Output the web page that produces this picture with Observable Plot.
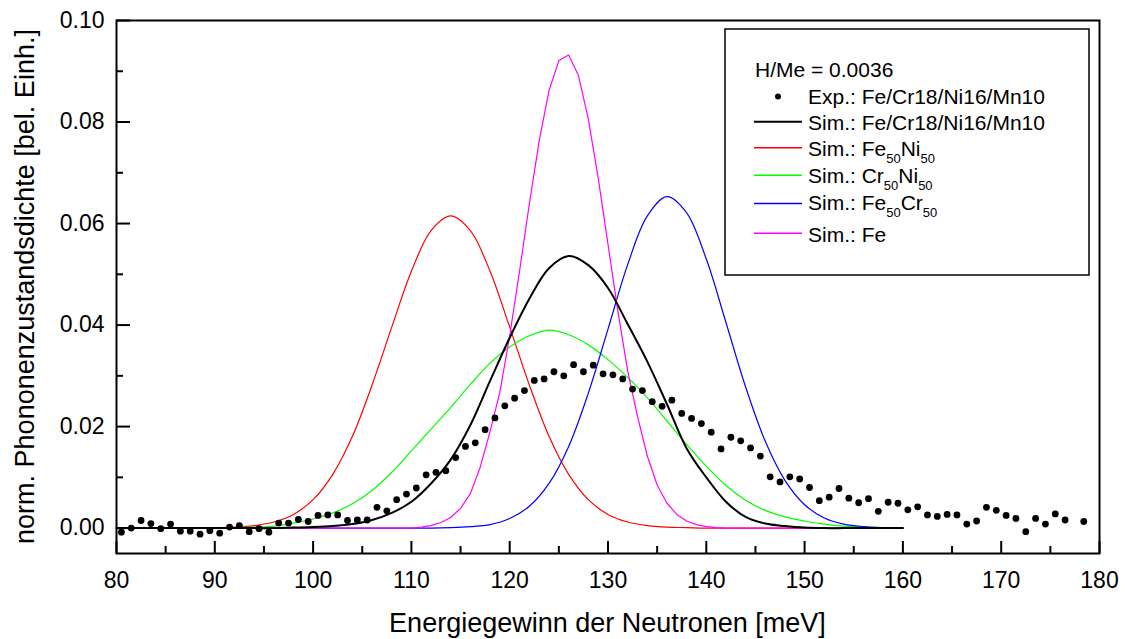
<!DOCTYPE html>
<html><head><meta charset="utf-8">
<script src="https://cdn.jsdelivr.net/npm/d3@7"></script>
<script src="https://cdn.jsdelivr.net/npm/@observablehq/plot@0.6"></script>
<style>
body{margin:0;background:#fff;}
#chart{width:1125px;height:639px;}
</style></head><body><div id="chart"></div>
<script>
// Experimental data (dots)
const expE = [80.5,81.5,82.5,83.5,84.5,85.5,86.5,87.5,88.5,89.5,90.5,91.5,92.5,93.5,94.5,95.5,96.5,97.5,98.5,99.5,
100.5,101.5,102.5,103.5,104.5,105.5,106.5,107.5,108.5,109.5,110.5,111.5,112.5,113.5,114.5,115.5,116.5,117.5,118.5,119.5,
120.5,121.5,122.5,123.5,124.5,125.5,126.5,127.5,128.5,129.5,130.5,131.5,132.5,133.5,134.5,135.5,136.5,137.5,138.5,139.5,
140.5,141.5,142.5,143.5,144.5,145.5,146.5,147.5,148.5,149.5,150.5,151.5,152.5,153.5,154.5,155.5,156.5,157.5,158.5,159.5,
160.5,161.5,162.5,163.5,164.5,165.5,166.5,167.5,168.5,169.5,170.5,171.5,172.5,173.5,174.5,175.5,176.5,178.4];
const expV = [-0.0008,0.0000,0.0015,0.0009,-0.0001,0.0008,-0.0006,-0.0006,-0.0012,-0.0005,-0.0010,0.0002,0.0005,-0.0007,-0.0001,-0.0008,0.0010,0.0010,0.0017,0.0013,
0.0025,0.0026,0.0026,0.0015,0.0016,0.0016,0.0041,0.0034,0.0056,0.0067,0.0079,0.0105,0.0110,0.0113,0.0139,0.0161,0.0168,0.0194,0.0217,0.0241,
0.0256,0.0271,0.0291,0.0294,0.0308,0.0300,0.0322,0.0308,0.0321,0.0304,0.0302,0.0294,0.0274,0.0271,0.0249,0.0240,0.0252,0.0226,0.0216,0.0206,
0.0189,0.0156,0.0179,0.0172,0.0158,0.0142,0.0101,0.0091,0.0101,0.0097,0.0080,0.0054,0.0061,0.0078,0.0059,0.0050,0.0058,0.0033,0.0051,0.0049,
0.0036,0.0042,0.0026,0.0023,0.0027,0.0026,0.0008,0.0014,0.0041,0.0035,0.0025,0.0019,-0.0007,0.0019,0.0008,0.0028,0.0016,0.0013];

// Simulations (2 meV grid)
const simE = [80,82,84,86,88,90,92,94,96,98,100,102,104,106,108,110,112,114,116,118,120,122,124,126,128,130,132,134,136,138,140,142,144,146,148,150,152,154,156,158,160];
const feNiV = [0,0,0,0,0,0.0001,0.0002,0.0005,0.0012,0.0027,0.0056,0.0106,0.0181,0.0282,0.0396,0.0506,0.0586,0.0615,0.0586,0.0506,0.0396,0.0282,0.0181,0.0106,0.0056,0.0027,0.0012,0.0005,0.0002,0.0001,0,0,0,0,0,0,0,0,0,0,0];
const crNiV = [0,0,0,0,0,0,0.0001,0.0002,0.0004,0.0010,0.0018,0.0030,0.0048,0.0074,0.0110,0.0152,0.0195,0.0238,0.0283,0.0325,0.0357,0.0379,0.0390,0.0381,0.0361,0.0332,0.0297,0.0257,0.0211,0.0165,0.0122,0.0084,0.0055,0.0035,0.0022,0.0014,0.0008,0.0004,0.0002,0.0001,0];
const feCrV = [0,0,0,0,0,0,0,0,0,0,0,0,0,0,0,0,0,0.0001,0.0003,0.0007,0.0019,0.0043,0.0088,0.0161,0.0266,0.0392,0.0519,0.0615,0.0653,0.0621,0.0530,0.0405,0.0278,0.0171,0.0094,0.0046,0.0020,0.0008,0.0003,0.0001,0];
const alloyV = [0,0,0,0,0,0,0,0,0,0.0001,0.0002,0.0004,0.0008,0.0016,0.0030,0.0052,0.0088,0.0135,0.0203,0.0290,0.0375,0.0452,0.0512,0.0536,0.0518,0.0473,0.0402,0.0328,0.0244,0.0157,0.0100,0.0052,0.0022,0.0009,0.0004,0.0001,0,0,0,0,0];
// Pure Fe (1 meV grid in the peak)
const feE = [80,100,110,111,112,113,114,115,116,117,118,119,120,121,122,123,124,125,126,127,128,129,130,131,132,133,134,135,136,137,138,139,140,141,142,150,160];
const feV = [0,0,0,0.0002,0.0005,0.0011,0.0021,0.0039,0.0068,0.0120,0.0190,0.0268,0.0379,0.0506,0.0639,0.0763,0.0862,0.0921,0.0932,0.0891,0.0806,0.0690,0.0559,0.0428,0.0310,0.0220,0.0142,0.0085,0.0049,0.0027,0.0014,0.0007,0.0003,0.0001,0,0,0];

const xMajor = [80,90,100,110,120,130,140,150,160,170,180];
const xMinor = [85,95,105,115,125,135,145,155,165,175];
const yMajor = [0,0.02,0.04,0.06,0.08,0.10];
const yMinor = [0.01,0.03,0.05,0.07,0.09];

const xTitle = "Energiegewinn der Neutronen [meV]";
const yTitle = "norm. Phononenzustandsdichte [bel. Einh.]";
const legendTitle = "H/Me = 0.0036";
const legendLabels = ["Exp.: Fe/Cr18/Ni16/Mn10","Sim.: Fe/Cr18/Ni16/Mn10","Sim.: Fe_{50}Ni_{50}","Sim.: Cr_{50}Ni_{50}","Sim.: Fe_{50}Cr_{50}","Sim.: Fe"];
const legendColors = ["#000000","#000000","#ff0000","#00ff00","#0000ff","#ff00ff"];

const font = "'Liberation Sans', Arial, sans-serif";
const rows = (xs, ys) => xs.map((x, i) => ({x, y: ys[i]}));

const W = 1125, H = 639, mL = 116, mR = 26, mT = 20, mB = 86;
const fw = W - mL - mR, fh = H - mT - mB;

const plot = Plot.plot({
  width: W, height: H,
  marginLeft: mL, marginRight: mR, marginTop: mT, marginBottom: mB,
  style: {fontFamily: font, background: "white", color: "black"},
  x: {domain: [80, 180]},
  y: {domain: [-0.005, 0.10]},
  marks: [
    Plot.axisX({ticks: xMajor, tickSize: 0, tickPadding: 18, fontSize: 23, tickFormat: d => String(d), label: null}),
    Plot.axisY({ticks: yMajor, tickSize: 0, tickPadding: 12, fontSize: 23, tickFormat: d3.format(".2f"), label: null}),
    Plot.ruleX(xMajor, {x: d => d, insetTop: fh - 12, stroke: "black", strokeWidth: 2}),
    Plot.ruleX(xMinor, {x: d => d, insetTop: fh - 7, stroke: "black", strokeWidth: 2}),
    Plot.ruleY(yMajor, {y: d => d, insetRight: fw - 14, stroke: "black", strokeWidth: 2}),
    Plot.ruleY(yMinor, {y: d => d, insetRight: fw - 7, stroke: "black", strokeWidth: 2}),
    Plot.line(rows(simE, feNiV), {x: "x", y: "y", stroke: "#ff0000", strokeWidth: 1.2, curve: "catmull-rom"}),
    Plot.line(rows(simE, crNiV), {x: "x", y: "y", stroke: "#00ff00", strokeWidth: 1.2, curve: "catmull-rom"}),
    Plot.line(rows(simE, feCrV), {x: "x", y: "y", stroke: "#0000ff", strokeWidth: 1.2, curve: "catmull-rom"}),
    Plot.line(rows(feE, feV), {x: "x", y: "y", stroke: "#ff00ff", strokeWidth: 1.2}),
    Plot.line(rows(simE, alloyV), {x: "x", y: "y", stroke: "#000000", strokeWidth: 2, curve: "catmull-rom"}),
    Plot.dot(rows(expE, expV), {x: "x", y: "y", r: 3.4, fill: "black", stroke: "none"}),
    Plot.frame({stroke: "black", strokeWidth: 2})
  ]
});

const svg = d3.select(plot);
// Axis titles
svg.append("text").attr("x", mL + fw / 2).attr("y", 632).attr("text-anchor", "middle")
  .attr("font-family", font).attr("font-size", 27).attr("fill", "black").text(xTitle);
svg.append("text").attr("transform", `translate(34,${mT + fh / 2}) rotate(-90)`).attr("text-anchor", "middle")
  .attr("font-family", font).attr("font-size", 27).attr("fill", "black").text(yTitle);

// Legend
const lg = svg.append("g").attr("font-family", font).attr("font-size", 21).attr("fill", "black").attr("text-anchor", "start");
lg.append("rect").attr("x", 725).attr("y", 29).attr("width", 364).attr("height", 246)
  .attr("fill", "white").attr("stroke", "black").attr("stroke-width", 1.5);
lg.append("text").attr("x", 755).attr("y", 77).attr("text-anchor", "start").text(legendTitle);
const baselines = [104, 129.5, 156, 182.5, 209.5, 241.5];
const lineYs = [96.5, 121.7, 147.7, 175.3, 203.5, 233.3];
legendLabels.forEach((lab, i) => {
  if (i === 0) {
    lg.append("circle").attr("cx", 778).attr("cy", lineYs[i]).attr("r", 3).attr("fill", "black");
  } else {
    lg.append("line").attr("x1", 754).attr("x2", 802).attr("y1", lineYs[i]).attr("y2", lineYs[i])
      .attr("stroke", legendColors[i]).attr("stroke-width", i === 1 ? 2 : 1.5);
  }
  const t = lg.append("text").attr("x", 808).attr("y", baselines[i]).attr("text-anchor", "start");
  const parts = lab.split(/(_\{[^}]*\})/).filter(s => s.length);
  let down = false;
  parts.forEach(p => {
    if (p.startsWith("_{")) {
      t.append("tspan").attr("font-size", 13).attr("dy", 7).text(p.slice(2, -1));
      down = true;
    } else {
      const s = t.append("tspan").text(p);
      if (down) { s.attr("dy", -7); down = false; }
    }
  });
});

document.getElementById("chart").appendChild(plot);
</script>
</body></html>
